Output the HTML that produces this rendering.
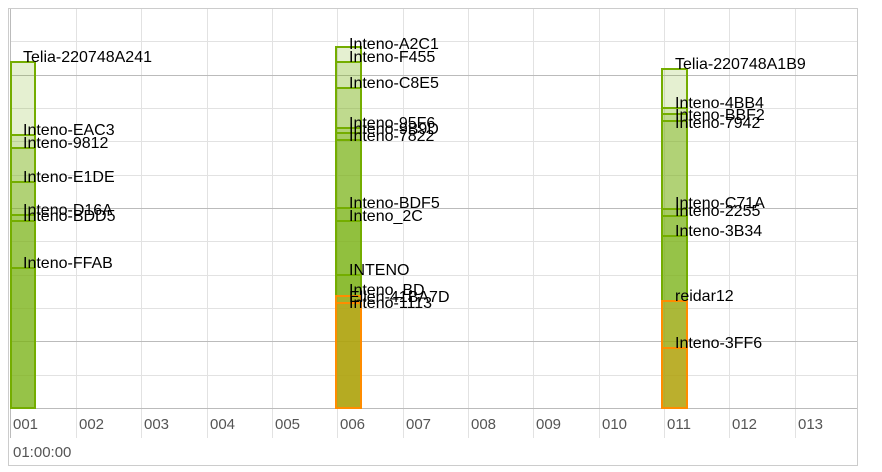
<!DOCTYPE html>
<html><head><meta charset="utf-8"><style>
body{margin:0;background:#fff}
svg{display:block;font-family:"Liberation Sans",sans-serif}
</style></head><body>
<svg width="882" height="472" xmlns="http://www.w3.org/2000/svg">
<rect x="8.5" y="8.5" width="849" height="457" fill="#fff" stroke="#ccc"/>
<g stroke="#e2e2e2" stroke-width="1">
<line x1="10" y1="41.5" x2="857" y2="41.5"/><line x1="10" y1="108.5" x2="857" y2="108.5"/><line x1="10" y1="141.5" x2="857" y2="141.5"/><line x1="10" y1="175.5" x2="857" y2="175.5"/><line x1="10" y1="241.5" x2="857" y2="241.5"/><line x1="10" y1="275.5" x2="857" y2="275.5"/><line x1="10" y1="308.5" x2="857" y2="308.5"/><line x1="10" y1="375.5" x2="857" y2="375.5"/>
<line x1="76.5" y1="9" x2="76.5" y2="438"/><line x1="141.5" y1="9" x2="141.5" y2="438"/><line x1="207.5" y1="9" x2="207.5" y2="438"/><line x1="272.5" y1="9" x2="272.5" y2="438"/><line x1="337.5" y1="9" x2="337.5" y2="438"/><line x1="403.5" y1="9" x2="403.5" y2="438"/><line x1="468.5" y1="9" x2="468.5" y2="438"/><line x1="533.5" y1="9" x2="533.5" y2="438"/><line x1="599.5" y1="9" x2="599.5" y2="438"/><line x1="664.5" y1="9" x2="664.5" y2="438"/><line x1="729.5" y1="9" x2="729.5" y2="438"/><line x1="795.5" y1="9" x2="795.5" y2="438"/>
</g>
<g stroke="#bbb"><line x1="10" y1="75.5" x2="857" y2="75.5"/><line x1="10" y1="208.5" x2="857" y2="208.5"/><line x1="10" y1="341.5" x2="857" y2="341.5"/><line x1="10" y1="408.5" x2="857" y2="408.5"/><line x1="10.5" y1="9" x2="10.5" y2="438"/></g>
<g fill="rgba(124,181,24,0.2)" stroke="#74ad00" stroke-width="2">
<rect x="11" y="62" width="24" height="346"/><rect x="11" y="135" width="24" height="273"/><rect x="11" y="148" width="24" height="260"/><rect x="11" y="182" width="24" height="226"/><rect x="11" y="215" width="24" height="193"/><rect x="11" y="221" width="24" height="187"/><rect x="11" y="268" width="24" height="140"/>
<rect x="336" y="47" width="25" height="361"/><rect x="336" y="62" width="25" height="346"/><rect x="336" y="88" width="25" height="320"/><rect x="336" y="128" width="25" height="280"/><rect x="336" y="133" width="25" height="275"/><rect x="336" y="140" width="25" height="268"/><rect x="336" y="208" width="25" height="200"/><rect x="336" y="221" width="25" height="187"/><rect x="336" y="275" width="25" height="133"/>
<rect x="662" y="69" width="25" height="339"/><rect x="662" y="108" width="25" height="300"/><rect x="662" y="114" width="25" height="294"/><rect x="662" y="121" width="25" height="287"/><rect x="662" y="209" width="25" height="199"/><rect x="662" y="216" width="25" height="192"/><rect x="662" y="236" width="25" height="172"/>
</g>
<g fill="rgba(255,140,0,0.2)" stroke="#ff8c00" stroke-width="2">
<rect x="336" y="296" width="25" height="112"/><rect x="336" y="303" width="25" height="105"/>
<rect x="662" y="301" width="25" height="107"/><rect x="662" y="348" width="25" height="60"/>
</g>
<g font-size="16" fill="#000">
<text x="23" y="62">Telia-220748A241</text><text x="23" y="135">Inteno-EAC3</text><text x="23" y="148">Inteno-9812</text><text x="23" y="182">Inteno-E1DE</text><text x="23" y="215">Inteno-D16A</text><text x="23" y="221">Inteno-BDD5</text><text x="23" y="268">Inteno-FFAB</text>
<text x="349" y="49">Inteno-A2C1</text><text x="349" y="62">Inteno-F455</text><text x="349" y="88">Inteno-C8E5</text><text x="349" y="128">Inteno-95F6</text><text x="349" y="134">Inteno-9B9D</text><text x="349" y="141">Inteno-7822</text><text x="349" y="208">Inteno-BDF5</text><text x="349" y="221">Inteno_2C</text><text x="349" y="275">INTENO</text><text x="349" y="295">Inteno_BD</text><text x="349" y="302">Ellen-41BA7D</text><text x="349" y="308">Inteno-1113</text>
<text x="675" y="69">Telia-220748A1B9</text><text x="675" y="108">Inteno-4BB4</text><text x="675" y="120">Inteno-BBF2</text><text x="675" y="128">Inteno-7942</text><text x="675" y="208">Inteno-C71A</text><text x="675" y="216">Inteno-2255</text><text x="675" y="236">Inteno-3B34</text><text x="675" y="301">reidar12</text><text x="675" y="348">Inteno-3FF6</text>
</g>
<g font-size="15" fill="#555">
<text x="13" y="429">001</text><text x="79" y="429">002</text><text x="144" y="429">003</text><text x="210" y="429">004</text><text x="275" y="429">005</text><text x="340" y="429">006</text><text x="406" y="429">007</text><text x="471" y="429">008</text><text x="536" y="429">009</text><text x="602" y="429">010</text><text x="667" y="429">011</text><text x="732" y="429">012</text><text x="798" y="429">013</text>
<text x="13" y="457">01:00:00</text>
</g>
</svg>
</body></html>
